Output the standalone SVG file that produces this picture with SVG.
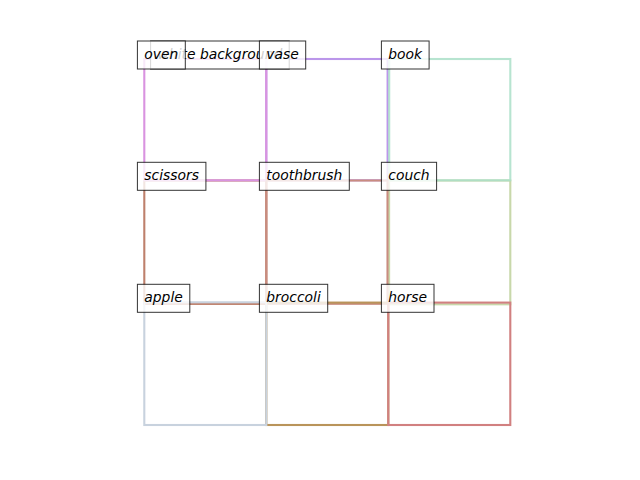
<svg xmlns="http://www.w3.org/2000/svg" width="640" height="480" viewBox="0 0 640 480">
<style>
.cell{fill:none;stroke-width:2.1}
.lb{fill:#ffffff;fill-opacity:0.8;stroke:#000000;stroke-opacity:0.8;stroke-width:1}
.tx{font-family:"DejaVu Sans","Liberation Sans",sans-serif;font-style:italic;font-size:13.89px;fill:#000000}
</style>
<rect width="640" height="480" fill="#ffffff"/>
<g id="cells">
  <g id="scissors"><rect class="cell" x="144.3" y="180.5" width="121.9" height="123.4" stroke="#be806c"/></g>
  <g id="couch"><rect class="cell" x="389.1" y="180.5" width="121.2" height="123.8" stroke="#c8d8aa"/></g>
  <g id="vase"><rect class="cell" x="266.3" y="59" width="121.3" height="121.3" stroke="#bb96ea"/></g>
  <g id="book"><rect class="cell" x="389.2" y="59" width="121.1" height="121.3" stroke="#aadfc8" stroke-opacity="0.85"/></g>
  <g id="oven"><rect class="cell" x="144.3" y="59" width="122" height="121.3" stroke="#d993e0"/></g>
  <g id="toothbrush"><rect class="cell" x="266.5" y="180.5" width="121" height="123.3" stroke="#c98c80"/></g>
  <g id="broccoli"><rect class="cell" x="266.3" y="302.6" width="122" height="122.4" stroke="#b9945a"/></g>
  <g id="apple"><rect class="cell" x="144.3" y="302.3" width="122" height="122.7" stroke="#c8d2de"/></g>
  <g id="horse"><rect class="cell" x="388.3" y="302.6" width="122" height="122.4" stroke="#d18080"/></g>
</g>
<g id="labels">
  <g id="label-white-background"><rect class="lb" x="150.6" y="41" width="138.6" height="28"/><text class="tx" x="157.5" y="59">white background</text></g>
  <g id="label-oven"><rect class="lb" x="137.4" y="41" width="47.9" height="28"/><text class="tx" x="144.3" y="59">oven</text></g>
  <g id="label-vase"><rect class="lb" x="259.4" y="41" width="46.3" height="28"/><text class="tx" x="266.3" y="59">vase</text></g>
  <g id="label-book"><rect class="lb" x="381.4" y="41" width="47.7" height="28"/><text class="tx" x="388.3" y="59">book</text></g>
  <g id="label-scissors"><rect class="lb" x="137.4" y="162.3" width="68.5" height="28"/><text class="tx" x="144.3" y="180.3">scissors</text></g>
  <g id="label-toothbrush"><rect class="lb" x="259.4" y="162.3" width="89.9" height="28"/><text class="tx" x="266.3" y="180.3">toothbrush</text></g>
  <g id="label-couch"><rect class="lb" x="381.4" y="162.3" width="55.2" height="28"/><text class="tx" x="388.3" y="180.3">couch</text></g>
  <g id="label-apple"><rect class="lb" x="137.4" y="284.3" width="52.4" height="28"/><text class="tx" x="144.3" y="302.3">apple</text></g>
  <g id="label-broccoli"><rect class="lb" x="259.4" y="284.3" width="68.3" height="28"/><text class="tx" x="266.3" y="302.3">broccoli</text></g>
  <g id="label-horse"><rect class="lb" x="381.4" y="284.3" width="52.6" height="28"/><text class="tx" x="388.3" y="302.3">horse</text></g>
</g>
</svg>
